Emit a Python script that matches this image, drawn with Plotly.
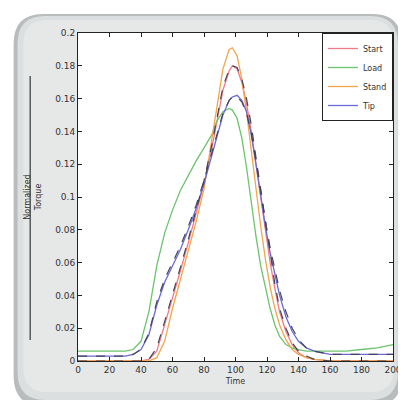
import plotly.graph_objects as go

# ---- data ----
time_x = [0, 10, 20, 30, 35, 40, 45, 50, 55, 60, 65, 70, 75, 80, 85, 88, 92, 96, 98, 101, 104,
          107, 110, 113, 116, 119, 122, 125, 128, 132, 136, 140, 145, 150, 160, 170, 180, 190, 200]

start = [0, 0, 0, 0, 0, 0, 0.001, 0.006, 0.022, 0.038, 0.055, 0.072, 0.09, 0.108, 0.13, 0.145,
         0.165, 0.177, 0.18, 0.178, 0.17, 0.157, 0.14, 0.12, 0.1, 0.08, 0.06, 0.044, 0.03, 0.018,
         0.01, 0.005, 0.002, 0.001, 0, 0, 0, 0, 0]
load = [0.006, 0.006, 0.006, 0.006, 0.007, 0.012, 0.03, 0.058, 0.078, 0.092, 0.104, 0.113,
        0.122, 0.13, 0.138, 0.146, 0.152, 0.154, 0.153, 0.148, 0.136, 0.118, 0.096, 0.076, 0.058,
        0.044, 0.032, 0.022, 0.015, 0.01, 0.008, 0.007, 0.006, 0.006, 0.006, 0.006, 0.007, 0.008, 0.01]
stand = [0, 0, 0, 0, 0, 0, 0, 0.002, 0.012, 0.032, 0.05, 0.067, 0.085, 0.105, 0.135, 0.155,
         0.178, 0.19, 0.191, 0.186, 0.172, 0.152, 0.128, 0.104, 0.082, 0.062, 0.045, 0.032, 0.022,
         0.013, 0.007, 0.004, 0.002, 0.001, 0, 0, 0, 0, 0]
tip = [0.003, 0.003, 0.003, 0.003, 0.004, 0.007, 0.016, 0.034, 0.048, 0.058, 0.068, 0.08, 0.093,
       0.108, 0.125, 0.136, 0.15, 0.159, 0.161, 0.162, 0.159, 0.152, 0.138, 0.12, 0.1, 0.082,
       0.066, 0.052, 0.04, 0.027, 0.018, 0.012, 0.008, 0.006, 0.004, 0.004, 0.004, 0.004, 0.004]

# dashed dark overlays (slightly offset companions of Start and Tip)
start_fit = [0, 0, 0, 0, 0, 0, 0.001, 0.008, 0.024, 0.04, 0.057, 0.074, 0.092, 0.11, 0.132, 0.148,
             0.167, 0.178, 0.18, 0.179, 0.172, 0.16, 0.144, 0.124, 0.104, 0.084, 0.064, 0.047, 0.032,
             0.02, 0.011, 0.006, 0.003, 0.001, 0, 0, 0, 0, 0]
tip_fit = [0.003, 0.003, 0.003, 0.003, 0.004, 0.007, 0.017, 0.036, 0.05, 0.06, 0.07, 0.082, 0.095,
           0.11, 0.127, 0.138, 0.151, 0.159, 0.161, 0.161, 0.158, 0.151, 0.139, 0.122, 0.103, 0.085,
           0.069, 0.055, 0.043, 0.03, 0.02, 0.013, 0.008, 0.006, 0.004, 0.004, 0.004, 0.004, 0.004]

series_names = ["Start", "Load", "Stand", "Tip"]
series_vals = [start, load, stand, tip]
series_colors = ["#f07a8a", "#6cc46c", "#f2a54a", "#6a6ad8"]

x_ticks = list(range(0, 201, 20))
y_ticks = [round(0.02 * i, 2) for i in range(11)]

# ---- figure ----
W, H = 406, 400
ML, MR, MT, MB = 70, 13, 25, 47
PW, PH = W - ML - MR, H - MT - MB


def px(xp):
    return (xp - ML) / PW


def py(yp):
    return (H - MB - yp) / PH


def rounded_rect(x0, y0, x1, y1, r):
    X0, X1 = px(x0), px(x1)
    Y0, Y1 = py(y0), py(y1)
    rx, ry = r / PW, r / PH
    return (f"M {X0+rx},{Y0} L {X1-rx},{Y0} Q {X1},{Y0} {X1},{Y0-ry} "
            f"L {X1},{Y1+ry} Q {X1},{Y1} {X1-rx},{Y1} L {X0+rx},{Y1} "
            f"Q {X0},{Y1} {X0},{Y1+ry} L {X0},{Y0-ry} Q {X0},{Y0} {X0+rx},{Y0} Z")


fig = go.Figure()

for name, vals, col in zip(series_names, series_vals, series_colors):
    fig.add_trace(go.Scatter(x=time_x, y=vals, mode="lines", name=name,
                             line=dict(color=col, width=1.3)))

for vals in [start_fit, tip_fit]:
    fig.add_trace(go.Scatter(x=time_x, y=vals, mode="lines", showlegend=False,
                             line=dict(color="#444455", width=1.2, dash="dash")))

shapes = [
    dict(type="path", xref="paper", yref="paper", path=rounded_rect(4, 6, 402, 398, 30),
         fillcolor="#b9bcbc", line=dict(width=0), layer="below"),
    dict(type="path", xref="paper", yref="paper", path=rounded_rect(8, 8, 398, 392, 28),
         fillcolor="#dcdfdf", line=dict(width=0), layer="below"),
    dict(type="path", xref="paper", yref="paper", path=rounded_rect(14, 12, 394, 384, 24),
         fillcolor="#e6e8e8", line=dict(width=0), layer="below"),
    dict(type="rect", xref="paper", yref="paper", x0=0, y0=0, x1=1, y1=1,
         fillcolor="white", line=dict(width=0), layer="below"),
    dict(type="line", xref="paper", yref="paper", x0=px(21), x1=px(21), y0=py(68), y1=py(332),
         line=dict(color="#555a5a", width=1.5)),
]

fig.update_layout(
    width=W, height=H,
    margin=dict(l=ML, r=MR, t=MT, b=MB),
    paper_bgcolor="white",
    plot_bgcolor="rgba(0,0,0,0)",
    shapes=shapes,
    font=dict(family="DejaVu Sans", size=9, color="#333333"),
    showlegend=True,
    legend=dict(x=1, y=1, xanchor="right", yanchor="top", bgcolor="white",
                bordercolor="#222222", borderwidth=1, font=dict(size=8),
                tracegroupgap=0),
    xaxis=dict(range=[0, 200], tickvals=x_ticks, ticks="inside", ticklen=4,
               showgrid=False, zeroline=False, showline=True, linecolor="#222222",
               linewidth=1, mirror="ticks", tickcolor="#222222",
               title=dict(text="Time", font=dict(size=8), standoff=4)),
    yaxis=dict(range=[0, 0.2], tickvals=y_ticks, ticks="inside", ticklen=4,
               showgrid=False, zeroline=False, showline=True, linecolor="#222222",
               linewidth=1, mirror="ticks", tickcolor="#222222",
               title=dict(text="Normalized<br>Torque", font=dict(size=8), standoff=12)),
)

fig.write_html("out.html")
